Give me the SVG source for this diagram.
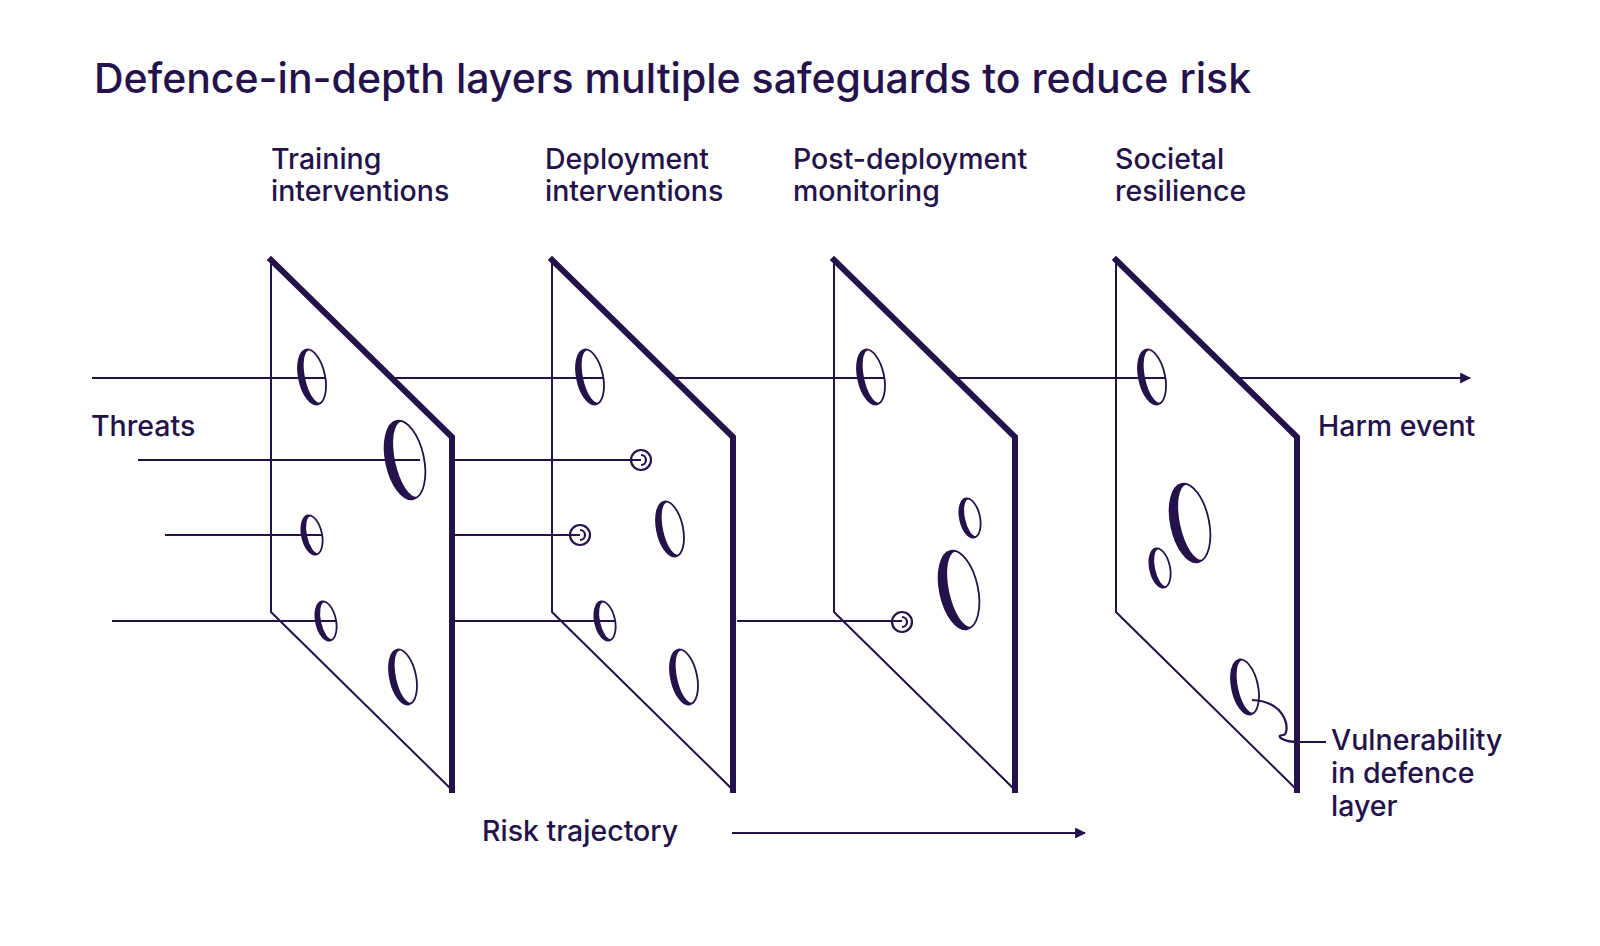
<svg xmlns="http://www.w3.org/2000/svg" width="1600" height="946" viewBox="0 0 1600 946">
<defs>
<style>
text{font-family:Inter,"Noto Sans","Liberation Sans",sans-serif;fill:#24124a;font-weight:500}
.t{font-size:28.5px}
.ln{stroke:#24124a;stroke-width:2.2;fill:none}
.thin{stroke:#24124a;stroke-width:2;fill:#fff}
.thick{stroke:#24124a;stroke-width:6;fill:none;stroke-linecap:square}
.hd{fill:#24124a}
.hw{fill:#fff}
.ho{fill:none;stroke:#24124a;stroke-width:1.8}
</style>
<marker id="ar" viewBox="0 0 10 10" refX="9" refY="5" markerWidth="5" markerHeight="5" orient="auto"><path d="M0,0L10,5L0,10z" fill="#24124a"/></marker>
<g id="panel">
<path class="thin" d="M0,0 L0,352 L181,530 L181,177 Z"/>
<path class="thick" d="M0,0 L181,177 L181,530"/>
</g>
<g id="hS"><ellipse class="hd" rx="10" ry="20"/><ellipse class="hw" cx="2.5" rx="7.5" ry="19"/><ellipse class="ho" rx="10" ry="20"/></g>
<g id="hM"><ellipse class="hd" rx="13" ry="28"/><ellipse class="hw" cx="3" rx="10" ry="27"/><ellipse class="ho" rx="13" ry="28"/></g>
<g id="hL"><ellipse class="hd" rx="19" ry="40"/><ellipse class="hw" cx="4.5" rx="14.5" ry="38.5"/><ellipse class="ho" rx="19" ry="40"/></g>
<g id="sp"><circle r="10" fill="#fff" stroke="#24124a" stroke-width="2.2"/><path d="M0,-5 A5,5 0 1 1 0,5" fill="none" stroke="#24124a" stroke-width="2.2"/></g>
</defs>
<rect width="1600" height="946" fill="#fff"/>
<text x="94" y="93" font-size="41">Defence-in-depth layers multiple safeguards to reduce risk</text>
<text class="t" x="271" y="169">Training</text><text class="t" x="271" y="201">interventions</text>
<text class="t" x="545" y="169">Deployment</text><text class="t" x="545" y="201">interventions</text>
<text class="t" x="793" y="169">Post-deployment</text><text class="t" x="793" y="201">monitoring</text>
<text class="t" x="1115" y="169">Societal</text><text class="t" x="1115" y="201">resilience</text>
<text class="t" x="91" y="436">Threats</text>
<text class="t" x="1318" y="436">Harm event</text>
<text class="t" x="1331" y="750">Vulnerability</text><text class="t" x="1331" y="783">in defence</text><text class="t" x="1331" y="816">layer</text>
<text class="t" x="482" y="841">Risk trajectory</text>

<g id="layer1"><use href="#panel" x="271" y="260"/>
<use href="#hM" transform="translate(312,377) rotate(-12)"/><use href="#hL" transform="translate(405,460) rotate(-12)"/>
<use href="#hS" transform="translate(312,535) rotate(-12)"/><use href="#hS" transform="translate(326,621) rotate(-12)"/>
<use href="#hM" transform="translate(403,677) rotate(-12)"/></g>
<g id="layer2"><use href="#panel" x="552" y="260"/>
<use href="#hM" transform="translate(590,377) rotate(-12)"/><use href="#sp" x="641" y="460"/><use href="#sp" x="580" y="535"/>
<use href="#hM" transform="translate(670,529) rotate(-12)"/><use href="#hS" transform="translate(605,621) rotate(-12)"/>
<use href="#hM" transform="translate(684,677) rotate(-12)"/></g>
<g id="layer3"><use href="#panel" x="834" y="260"/>
<use href="#hM" transform="translate(871,377) rotate(-12)"/><use href="#hS" transform="translate(970,518) rotate(-12)"/>
<use href="#hL" transform="translate(959,590) rotate(-12)"/><use href="#sp" x="902" y="622"/></g>
<g id="layer4"><use href="#panel" x="1116" y="260"/>
<use href="#hM" transform="translate(1152,377) rotate(-12)"/><use href="#hL" transform="translate(1190,523) rotate(-12)"/>
<use href="#hS" transform="translate(1160,568) rotate(-12)"/><use href="#hM" transform="translate(1245,687) rotate(-12)"/></g>

<g id="connectors">
<path class="ln" d="M92,378H326M392,378H604M673,378H885M955,378H1166M1236,378H1470" marker-end="url(#ar)"/>
<path class="ln" d="M138,460H420M455,460H641"/>
<path class="ln" d="M165,535H322M455,535H580"/>
<path class="ln" d="M112,621H336M455,621H615M737,621H902"/>
<path class="ln" d="M732,833H1085" marker-end="url(#ar)"/>
<path class="ln" d="M1252,700C1290,702 1290,735 1283,735C1275,735 1282,742 1298,742H1326" />
</g>
</svg>
